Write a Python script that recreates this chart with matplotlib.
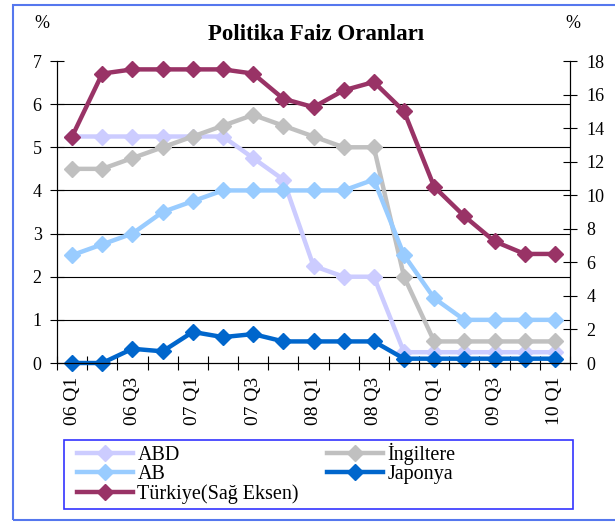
import numpy as np
import matplotlib.pyplot as plt
from matplotlib.patches import Rectangle

plt.rcParams['font.family'] = ['Liberation Serif', 'DejaVu Serif']

quarters = ['06 Q1', '06 Q2', '06 Q3', '06 Q4', '07 Q1', '07 Q2', '07 Q3', '07 Q4',
            '08 Q1', '08 Q2', '08 Q3', '08 Q4', '09 Q1', '09 Q2', '09 Q3', '09 Q4', '10 Q1']
abd = [5.25, 5.25, 5.25, 5.25, 5.25, 5.25, 4.75, 4.25, 2.25, 2.0, 2.0, 0.25, 0.25, 0.25, 0.25, 0.25, 0.25]
ingiltere = [4.5, 4.5, 4.75, 5.0, 5.25, 5.5, 5.75, 5.5, 5.25, 5.0, 5.0, 2.0, 0.5, 0.5, 0.5, 0.5, 0.5]
ab = [2.5, 2.75, 3.0, 3.5, 3.75, 4.0, 4.0, 4.0, 4.0, 4.0, 4.25, 2.5, 1.5, 1.0, 1.0, 1.0, 1.0]
japonya = [0.0, 0.0, 0.33, 0.27, 0.72, 0.6, 0.67, 0.5, 0.5, 0.5, 0.5, 0.1, 0.1, 0.1, 0.1, 0.1, 0.1]
turkiye = [13.5, 17.25, 17.5, 17.5, 17.5, 17.5, 17.25, 15.75, 15.25, 16.25, 16.75, 15.0,
           10.5, 8.75, 7.25, 6.5, 6.5]

x = np.arange(len(quarters))

fig = plt.figure(figsize=(6.15, 5.23), dpi=100)
ax = fig.add_axes([57 / 615, 1 - 363 / 523, (570 - 57) / 615, (363 - 61) / 523])
ax2 = ax.twinx()

style = dict(lw=3.2, marker='D', ms=8.5, clip_on=False)
l_abd, = ax.plot(x, abd, color='#CCCCFF', label='ABD', **style)
l_ing, = ax.plot(x, ingiltere, color='#C0C0C0', label='İngiltere', **style)
l_ab, = ax.plot(x, ab, color='#99CCFF', label='AB', **style)
l_jap, = ax.plot(x, japonya, color='#0066CC', label='Japonya', **style)
l_tur, = ax2.plot(x, turkiye, color='#993366', label='Türkiye(Sağ Eksen)', **style)

ax.set_xlim(-0.5, len(quarters) - 0.5)
ax.set_ylim(0, 7)
ax2.set_ylim(0, 18)
ax.set_yticks(range(0, 8))
ax2.set_yticks(range(0, 19, 2))

ax.set_xticks(x[::2])
ax.set_xticklabels(quarters[::2], rotation=90, fontsize=14)
ax.set_xticks(np.arange(-0.5, len(quarters), 1), minor=True)
ax.tick_params(axis='x', which='major', length=0, pad=10)
ax.tick_params(axis='x', which='minor', direction='inout', length=10, width=0.8)
ax.tick_params(axis='y', direction='inout', length=10, width=0.8, labelsize=13, pad=6)
ax2.tick_params(axis='y', direction='inout', length=10, width=0.8, labelsize=13, pad=7)

ax.yaxis.grid(True, color='black', lw=0.8)
ax.yaxis.get_gridlines()[-1].set_visible(False)
ax.yaxis.get_gridlines()[0].set_visible(False)
ax.set_axisbelow(True)

for a in (ax, ax2):
    a.spines['top'].set_visible(False)
    for s in ('left', 'right', 'bottom'):
        a.spines[s].set_linewidth(0.8)

fig.text(316 / 615, 1 - 35 / 523, 'Politika Faiz Oranları', ha='center', va='center',
         fontsize=16.5, fontweight='bold')
fig.text(42 / 615, 1 - 24 / 523, '%', ha='center', va='center', fontsize=13)
fig.text(573 / 615, 1 - 24 / 523, '%', ha='center', va='center', fontsize=13)

handles = [l_abd, l_ab, l_tur, l_ing, l_jap]
leg = fig.legend(handles, [h.get_label() for h in handles], ncol=2,
                 loc='upper left', bbox_to_anchor=(77 / 615, 1 - 443 / 523),
                 fontsize=14.5, handlelength=2.8, handletextpad=0.2,
                 labelspacing=0.0, borderpad=0, borderaxespad=0, frameon=False,
                 columnspacing=1.4)

fig.patches.append(Rectangle((64 / 615, 1 - 509 / 523), (573 - 64) / 615, (509 - 440) / 523,
                             transform=fig.transFigure, fill=False,
                             edgecolor='#3333FF', lw=1.2))
fig.patches.append(Rectangle((13 / 615, 1 - 520 / 523), 1.0, (520 - 5) / 523,
                             transform=fig.transFigure, fill=False,
                             edgecolor='#5577EE', lw=1.5))

fig.savefig('out.png', dpi=100)
